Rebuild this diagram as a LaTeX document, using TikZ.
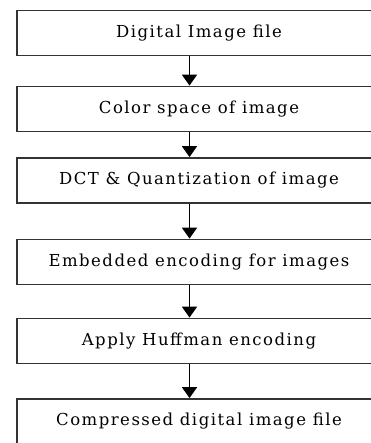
\documentclass[tikz,border=0pt]{standalone}
\usepackage{fontspec}
\setmainfont{DejaVu Serif}
\newfontfamily\stagefont[LetterSpace=9]{DejaVu Serif}
\usepackage{tikz}
\usepackage{xcolor}
\usetikzlibrary{arrows.meta}
\tikzset{%
  tipA/.tip={Triangle[width=15pt,length=11pt]},
  stage/.style={draw=black!80, line width=1.8pt, minimum width=364pt, minimum height=45pt, inner sep=0pt, font=\stagefont\fontsize{16.5}{19}\selectfont}
}

\begin{document}
\begin{tikzpicture}[x=1pt,y=-1pt]
\useasboundingbox (0,0) rectangle (370,443);
\node[stage] (input) at (199,33) {Digital Image file};
\node[stage] (color) at (199,109) {Color space of image};
\node[stage] (dct) at (199,180.5) {DCT \& Quantization of image};
\node[stage] (embed) at (199,262) {Embedded encoding for images};
\node[stage] (huff) at (199,341) {Apply Huffman encoding};
\node[stage] (output) at (199,421.5) {Compressed digital image file};
%\node at (199,470) {};
\draw [black , line width=1.8pt , -tipA] ([xshift=-9.5pt]input.south) -- ([xshift=-9.5pt]color.north);
\draw [black , line width=1.8pt , -tipA] ([xshift=-9.5pt]color.south) -- ([xshift=-9.5pt]dct.north);
\draw [black , line width=1.8pt , -tipA] ([xshift=-9.5pt]dct.south) -- ([xshift=-9.5pt]embed.north);
\draw [black , line width=1.8pt , -tipA] ([xshift=-9.5pt]embed.south) -- ([xshift=-9.5pt]huff.north);
\draw [black , line width=1.8pt , -tipA] ([xshift=-9.5pt]huff.south) -- ([xshift=-9.5pt]output.north);
\end{tikzpicture}
\end{document}
